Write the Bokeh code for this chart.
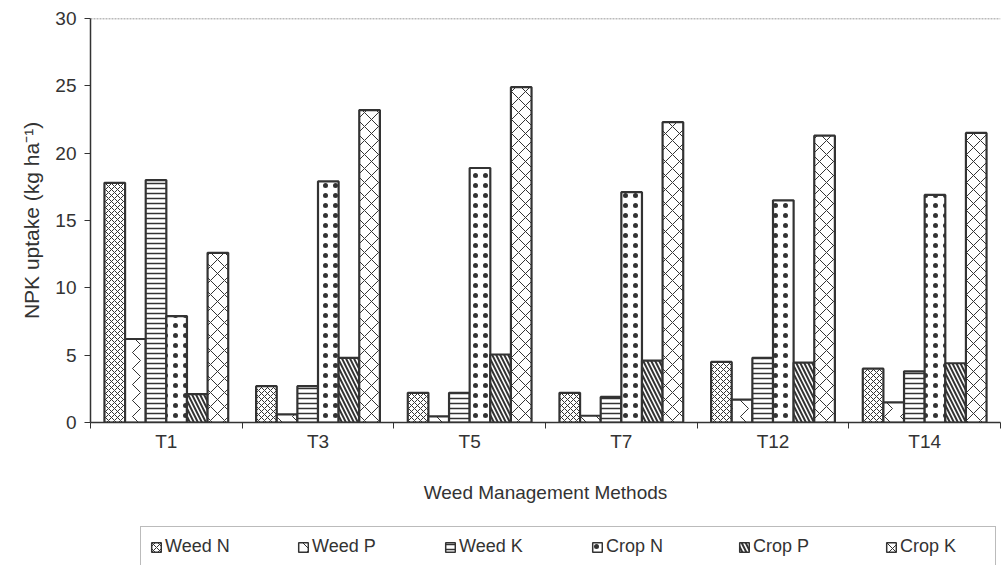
from bokeh.plotting import figure
from bokeh.layouts import column
from bokeh.models import (ColumnDataSource, FixedTicker, Legend, LegendItem, Span)
from bokeh.embed import file_html
from bokeh.resources import INLINE

# NPK uptake (kg/ha) by weed and crop under each weed management method
treatments = ["T1", "T3", "T5", "T7", "T12", "T14"]
weed_n = [17.8, 2.7, 2.2, 2.2, 4.5, 4.0]
weed_p = [6.2, 0.6, 0.45, 0.5, 1.7, 1.5]
weed_k = [18.0, 2.7, 2.2, 1.9, 4.8, 3.8]
crop_n = [7.9, 17.9, 18.9, 17.1, 16.5, 16.9]
crop_p = [2.1, 4.8, 5.05, 4.6, 4.45, 4.4]
crop_k = [12.6, 23.2, 24.9, 22.3, 21.3, 21.5]
y_ticks = [0, 5, 10, 15, 20, 25, 30]

series = [
    ("Weed N", weed_n, dict(hatch_pattern="diagonal_cross", hatch_scale=6, hatch_weight=1)),
    ("Weed P", weed_p, dict(hatch_pattern="vertical_wave", hatch_scale=16, hatch_weight=1)),
    ("Weed K", weed_k, dict(hatch_pattern="horizontal_line", hatch_scale=5, hatch_weight=1.5)),
    ("Crop N", crop_n, dict(hatch_pattern="dot", hatch_scale=10, hatch_weight=1.2)),
    ("Crop P", crop_p, dict(hatch_pattern="left_diagonal_line", hatch_scale=8, hatch_weight=2)),
    ("Crop K", crop_k, dict(hatch_pattern="diagonal_cross", hatch_scale=14, hatch_weight=1)),
]

INK = "#333333"
FONT = "Liberation Sans"

p = figure(width=1003, height=520, output_backend="svg", toolbar_location=None,
           x_range=(0, 6), y_range=(0, 30),
           min_border_left=90, min_border_right=3, min_border_top=18,
           min_border_bottom=98)
p.outline_line_color = None
p.grid.visible = False
p.background_fill_color = "white"
p.border_fill_color = "white"

bar_w = 0.136
sources = []
for k, (name, vals, hatch) in enumerate(series):
    xs = [i + 0.5 + (k - 2.5) * bar_w for i in range(len(treatments))]
    src = ColumnDataSource(dict(x=xs, top=vals))
    sources.append(src)
    p.vbar(x="x", top="top", width=bar_w, bottom=0, source=src,
           fill_color="white", line_color=INK, line_width=2.2,
           hatch_color=INK, **hatch)

# top frame line
p.add_layout(Span(location=30, dimension="width", line_color="#777777",
                  line_width=1.5, line_dash="2 1"))

# x axis: labels at group centres, tick marks at group boundaries
xa = p.xaxis[0]
xa.ticker = FixedTicker(ticks=[i + 0.5 for i in range(len(treatments))],
                        minor_ticks=list(range(len(treatments) + 1)))
xa.major_label_overrides = {i + 0.5: t for i, t in enumerate(treatments)}
xa.major_tick_line_color = None
xa.major_tick_out = 0
xa.major_tick_in = 0
xa.minor_tick_line_color = INK
xa.minor_tick_out = 6
xa.minor_tick_in = 0
xa.axis_line_color = INK
xa.axis_line_width = 1.5
xa.major_label_standoff = 2
xa.major_label_text_font = FONT
xa.major_label_text_font_size = "19px"
xa.major_label_text_color = INK
xa.axis_label = "Weed Management Methods"
xa.axis_label_text_font = FONT
xa.axis_label_text_font_size = "19px"
xa.axis_label_text_font_style = "normal"
xa.axis_label_text_color = INK
xa.axis_label_standoff = 27

ya = p.yaxis[0]
ya.ticker = FixedTicker(ticks=y_ticks, minor_ticks=[])
ya.major_tick_out = 6
ya.major_tick_in = 0
ya.major_tick_line_color = INK
ya.axis_line_color = INK
ya.axis_line_width = 1.5
ya.major_label_standoff = 8
ya.major_label_text_font = FONT
ya.major_label_text_font_size = "19px"
ya.major_label_text_color = INK
ya.axis_label = "NPK uptake (kg ha\u207b\u00b9)"
ya.axis_label_text_font = FONT
ya.axis_label_text_font_size = "21px"
ya.axis_label_text_font_style = "normal"
ya.axis_label_text_color = INK
ya.axis_label_standoff = 9

# legend strip underneath the chart; its swatch renderers are hidden and the
# inactive overlay is made transparent so the swatches still show normally
leg = figure(width=1003, height=45, output_backend="svg", toolbar_location=None,
             x_range=(0, 6), y_range=(0, 30), min_border=0,
             x_axis_location=None, y_axis_location=None)
leg.grid.visible = False
leg.outline_line_color = None
leg.border_fill_color = "white"
items = []
for (name, vals, hatch), src in zip(series, sources):
    r = leg.vbar(x="x", top="top", width=bar_w, bottom=0, source=src,
                 fill_color="white", line_color=INK, line_width=1.5,
                 hatch_color=INK, visible=False, **hatch)
    items.append(LegendItem(label=name, renderers=[r]))

legend = Legend(items=items, orientation="horizontal", location=(50, -2),
                glyph_width=12, glyph_height=12, label_standoff=3,
                label_width=86, spacing=46, padding=9, margin=0,
                label_text_font=FONT, label_text_font_size="18px",
                label_text_color=INK, border_line_color="#777777",
                border_line_width=1.5, background_fill_color="white",
                background_fill_alpha=1, inactive_fill_alpha=0)
leg.add_layout(legend, "center")

page = column(p, leg, spacing=0)
open("out.html", "w").write(file_html(page, INLINE))
